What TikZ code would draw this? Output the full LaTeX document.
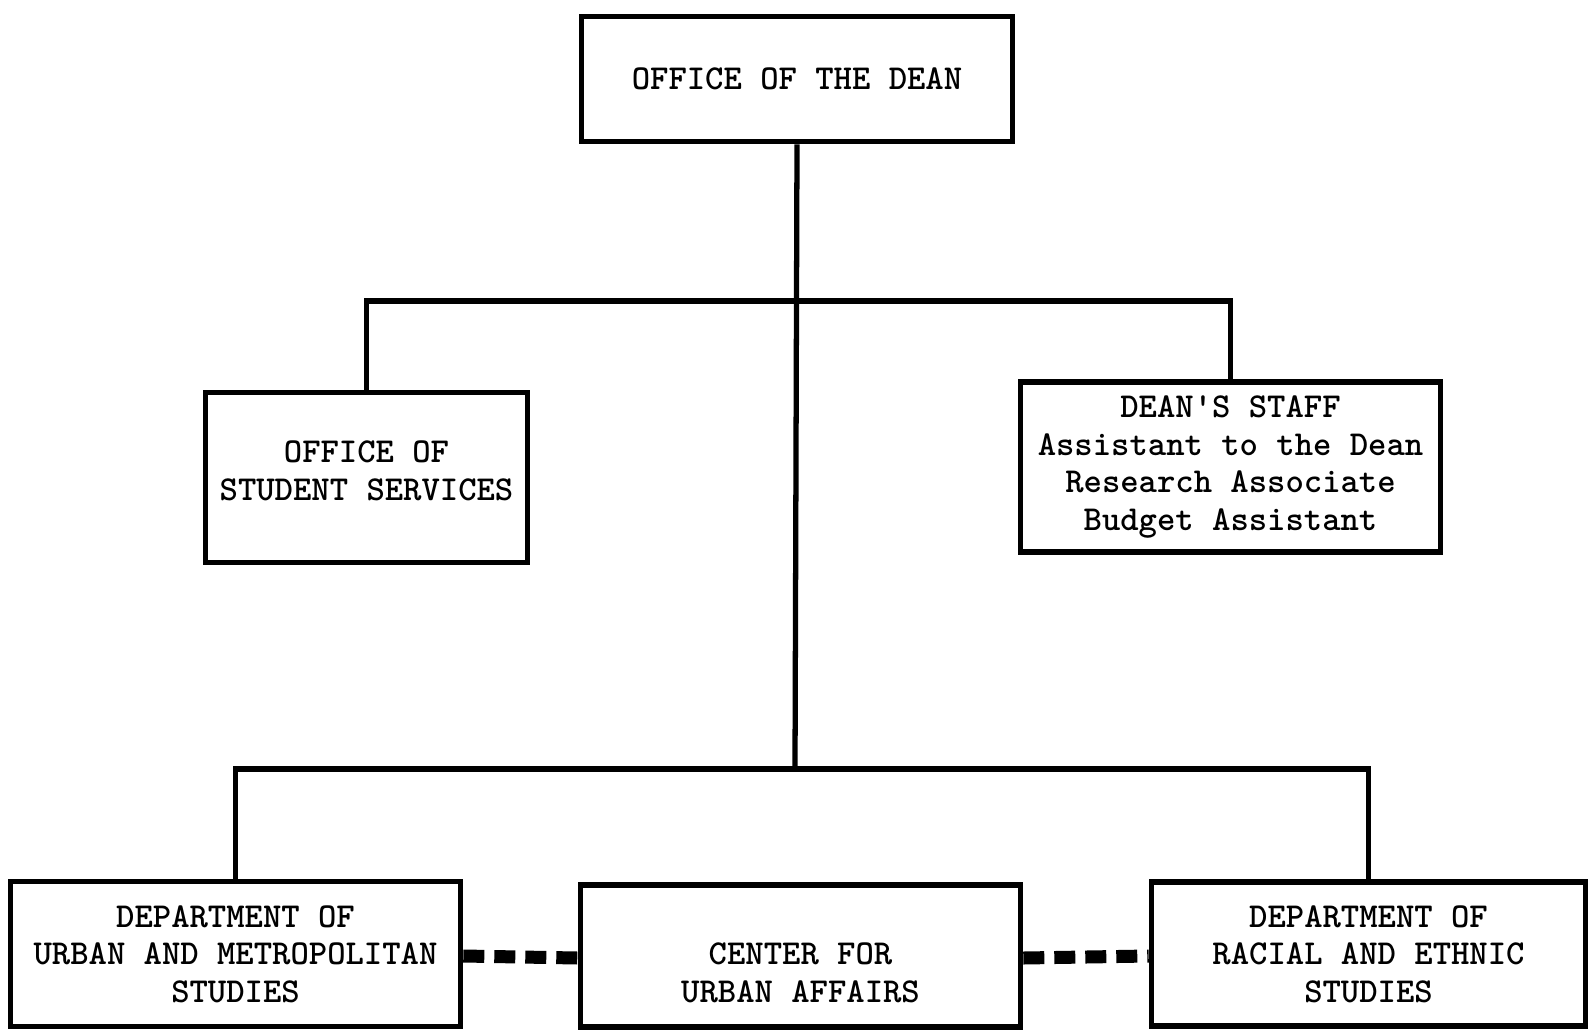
\documentclass[tikz,border=0pt]{standalone}
\tikzset{
  unitbox/.style={draw, line width=3.2pt, rectangle, align=center, inner sep=0pt,
    font=\ttfamily\bfseries\fontsize{19.9}{21.3}\selectfont},
  link/.style={line width=3pt},
  tieline/.style={line width=0.26cm, dash pattern=on 0.42cm off 0.2cm}
}
\begin{document}
\begin{tikzpicture}[x=0.02cm, y=-0.02cm]
\useasboundingbox (0,0) rectangle (1593,1029);

\node[unitbox, minimum width=431*0.02cm, minimum height=125*0.02cm] (dean) at (797,79) {OFFICE OF THE DEAN};
\node[unitbox, minimum width=322*0.02cm, minimum height=170*0.02cm] (student) at (366.5,477.5) {OFFICE OF\\STUDENT SERVICES\rule[-0.28cm]{0pt}{0pt}};
\node[unitbox, minimum width=420*0.02cm, minimum height=170*0.02cm] (staff) at (1230.5,467) {DEAN'S STAFF\\Assistant to the Dean\\Research Associate\\Budget Assistant};
\node[unitbox, minimum width=450*0.02cm, minimum height=145*0.02cm] (urban) at (235.5,954) {DEPARTMENT OF\\URBAN AND METROPOLITAN\\STUDIES};
\node[unitbox, minimum width=440*0.02cm, minimum height=142*0.02cm] (center) at (800.5,956) {\rule{0pt}{1.1cm}CENTER FOR\\URBAN AFFAIRS};
\node[unitbox, minimum width=434*0.02cm, minimum height=144*0.02cm] (racial) at (1368.5,954) {DEPARTMENT OF\\RACIAL AND ETHNIC\\STUDIES};

\coordinate (upper) at (795,301);
\coordinate (lower) at (795,769);

\draw[link] (dean.south) -- (lower);
\draw[link] (student.north) |- (upper) -| (staff.north);
\draw[link] (urban.north) |- (lower) -| (racial.north);

\foreach \a/\b in {urban/center, center/racial}
{
    \draw[tieline] ([yshift=-0.04cm]\a.east) -- ([yshift=-0.04cm]\b.west);
}
\end{tikzpicture}
\end{document}
